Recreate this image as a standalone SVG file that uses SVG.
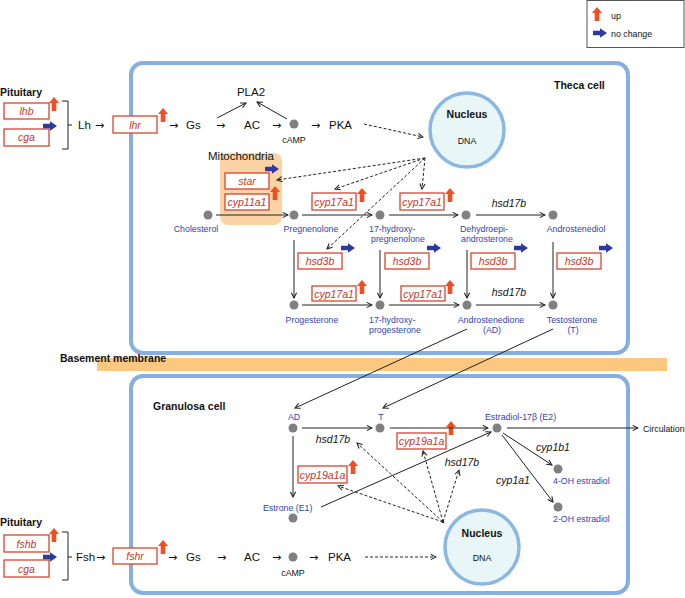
<svg xmlns="http://www.w3.org/2000/svg" xmlns:xlink="http://www.w3.org/1999/xlink" width="685" height="598" viewBox="0 0 685 598">
<style>
text{font-family:"Liberation Sans","DejaVu Sans",Arial,sans-serif}
.box{fill:#fff;stroke:#d8442e;stroke-width:1.3}
.g{font-style:italic;fill:#c8372a;font-size:10.5px;text-anchor:middle}
.it{font-style:italic;fill:#111;font-size:10.5px;text-anchor:middle}
.bl{fill:#3444ad;font-size:8.8px}
.m{text-anchor:middle}
.k{fill:#111;font-size:11.5px}
.ar{fill:#111;font-size:11px;font-family:"DejaVu Sans",sans-serif}
.s{fill:#111;font-size:8.8px}
.hd{fill:#111;font-size:10.5px;font-weight:bold}
.dot{fill:#808080}
.cell{fill:#fff;stroke:#86afe0;stroke-width:4}
.nuc{fill:#e8f6f8;stroke:#8ab8e2;stroke-width:3.5}
.ln{fill:none;stroke:#222;stroke-width:1}
.ds{fill:none;stroke:#222;stroke-width:1;stroke-dasharray:3,2}
</style>
<defs>
<marker id="ah" viewBox="0 0 8 8" refX="7" refY="4" markerWidth="7" markerHeight="7" markerUnits="userSpaceOnUse" orient="auto">
<path d="M1,1 L7,4 L1,7" fill="none" stroke="#222" stroke-width="1.2"/>
</marker>
<path id="up" d="M0,-7 L5,-1 L2.3,-1 L2.3,7 L-2.3,7 L-2.3,-1 L-5,-1 Z" fill="#f04e23"/>
<path id="nc" d="M7,0 L0,-4.8 L0,-2.3 L-7,-2.3 L-7,2.3 L0,2.3 L0,4.8 Z" fill="#2b3a9c"/>
</defs>

<!-- legend -->
<g id="legend">
<rect x="587" y="0.5" width="97" height="47" fill="#fff" stroke="#555" stroke-width="1"/>
<use href="#up" x="597" y="14"/>
<text x="611" y="19" class="s" font-size="9.5">up</text>
<use href="#nc" x="600" y="33"/>
<text x="611" y="37" class="s" font-size="9.5">no change</text>
</g>

<!-- cells and membrane -->
<g id="theca-cell">
<rect class="cell" x="131" y="63" width="497" height="290" rx="12"/>
<text x="554" y="89" class="hd">Theca cell</text>
</g>
<g id="basement-membrane">
<rect x="97" y="358" width="570" height="13" fill="#fcc87f"/>
<text x="60" y="362" class="hd" font-size="10">Basement membrane</text>
</g>
<g id="granulosa-cell">
<rect class="cell" x="131" y="376" width="497" height="217" rx="12"/>
<text x="153" y="410" class="hd">Granulosa cell</text>
</g>

<g id="mitochondria">
<rect x="220" y="153" width="62" height="72" rx="8" fill="#fbd3a5"/>
<text x="208" y="160" class="k" font-size="10.5">Mitochondria</text>
</g>

<g id="nucleus-theca">
<circle class="nuc" cx="467" cy="130" r="37"/>
<text x="467" y="118" class="hd m">Nucleus</text>
<text x="467" y="144" class="s m">DNA</text>
</g>
<g id="nucleus-granulosa">
<circle class="nuc" cx="482" cy="547" r="37"/>
<text x="482" y="537" class="hd m">Nucleus</text>
<text x="482" y="561" class="s m">DNA</text>
</g>

<!-- top pituitary -->
<g id="pituitary-lh">
<text x="0" y="96" class="hd">Pituitary</text>
<rect class="box" x="4" y="103" width="45" height="16"/>
<text x="26.5" y="115" class="g">lhb</text>
<rect class="box" x="4" y="129" width="45" height="17"/>
<text x="26.5" y="141" class="g">cga</text>
<use href="#up" x="54" y="104"/>
<use href="#nc" x="50" y="126"/>
<path class="ln" d="M62,101 H68 V149 H62 M68,125 H72"/>
<text x="78" y="129" class="k">Lh</text>
<text x="95" y="129" class="ar">→</text>
</g>
<g id="lhr">
<rect class="box" x="113" y="116" width="44" height="17"/>
<text x="135" y="128.5" class="g">lhr</text>
<use href="#up" x="163" y="115"/>
<text x="169" y="129" class="ar">→</text>
<text x="186" y="129" class="k">Gs</text>
<text x="216" y="129" class="ar">→</text>
<text x="244" y="129" class="k">AC</text>
<text x="272" y="129" class="ar">→</text>
<circle class="dot" cx="294" cy="124" r="4.5"/>
<text x="294" y="143" class="s m">cAMP</text>
<text x="311" y="129" class="ar">→</text>
<text x="329" y="129" class="k">PKA</text>
<text x="251" y="96" class="k m">PLA2</text>
</g>

<!-- theca steroidogenesis -->
<g id="theca-genes">
<use href="#nc" x="272" y="169"/>
<rect class="box" x="225" y="173" width="44" height="16"/>
<text x="247" y="185" class="g">star</text>
<rect class="box" x="225" y="194" width="44" height="16"/>
<text x="247" y="206" class="g">cyp11a1</text>
<use href="#up" x="275" y="193"/>

<rect class="box" x="312" y="193" width="44" height="17"/>
<text x="334" y="205.5" class="g">cyp17a1</text>
<use href="#up" x="362" y="195"/>
<rect class="box" x="400" y="193" width="44" height="17"/>
<text x="422" y="205.5" class="g">cyp17a1</text>
<use href="#up" x="450" y="195"/>
<text x="509" y="207" class="it">hsd17b</text>

<rect class="box" x="298" y="253" width="44" height="16"/>
<text x="320" y="265" class="g">hsd3b</text>
<use href="#nc" x="348" y="248"/>
<rect class="box" x="385" y="253" width="44" height="16"/>
<text x="407" y="265" class="g">hsd3b</text>
<use href="#nc" x="434" y="248"/>
<rect class="box" x="471" y="253" width="44" height="16"/>
<text x="493" y="265" class="g">hsd3b</text>
<use href="#nc" x="521" y="248"/>
<rect class="box" x="557" y="253" width="44" height="16"/>
<text x="579" y="265" class="g">hsd3b</text>
<use href="#nc" x="606" y="248"/>

<rect class="box" x="312" y="286" width="44" height="15"/>
<text x="334" y="297.5" class="g">cyp17a1</text>
<use href="#up" x="362" y="287"/>
<rect class="box" x="401" y="286" width="44" height="15"/>
<text x="423" y="297.5" class="g">cyp17a1</text>
<use href="#up" x="450" y="287"/>
<text x="509" y="296" class="it">hsd17b</text>
</g>

<g id="cholesterol"><circle class="dot" cx="208" cy="215" r="4.5"/><text x="196" y="232" class="bl m">Cholesterol</text></g>
<g id="pregnenolone"><circle class="dot" cx="294" cy="215" r="4.5"/><text x="311" y="232" class="bl m">Pregnenolone</text></g>
<g id="hydroxypregnenolone"><circle class="dot" cx="380" cy="215" r="4.5"/><text x="369" y="232" class="bl">17-hydroxy-</text><text x="371" y="242" class="bl">pregnenolone</text></g>
<g id="dhea"><circle class="dot" cx="466" cy="215" r="4.5"/><text x="460" y="232" class="bl">Dehydroepi-</text><text x="461" y="242" class="bl">androsterone</text></g>
<g id="androstenediol"><circle class="dot" cx="553" cy="215" r="4.5"/><text x="576" y="232" class="bl m">Androstenediol</text></g>
<g id="progesterone"><circle class="dot" cx="294" cy="305" r="4.5"/><text x="312" y="323" class="bl m">Progesterone</text></g>
<g id="hydroxyprogesterone"><circle class="dot" cx="380" cy="305" r="4.5"/><text x="369" y="323" class="bl">17-hydroxy-</text><text x="369" y="333" class="bl">progesterone</text></g>
<g id="androstenedione"><circle class="dot" cx="467" cy="305" r="4.5"/><text x="491" y="323" class="bl m">Androstenedione</text><text x="492" y="333" class="bl m">(AD)</text></g>
<g id="testosterone"><circle class="dot" cx="553" cy="305" r="4.5"/><text x="572" y="323" class="bl m">Testosterone</text><text x="573" y="333" class="bl m">(T)</text></g>

<!-- granulosa -->
<g id="ad-g"><circle class="dot" cx="293" cy="428" r="4.5"/><text x="294" y="420" class="bl m">AD</text></g>
<g id="t-g"><circle class="dot" cx="380" cy="428" r="4.5"/><text x="381" y="420" class="bl m">T</text></g>
<g id="e2"><circle class="dot" cx="497" cy="428" r="4.5"/><text x="485" y="420" class="bl">Estradiol-17β (E2)</text></g>
<g id="e1"><circle class="dot" cx="293" cy="518" r="4.5"/><text x="263" y="511" class="bl">Estrone (E1)</text></g>
<g id="oh4"><circle class="dot" cx="558" cy="469" r="4.5"/><text x="553" y="484" class="bl">4-OH estradiol</text></g>
<g id="oh2"><circle class="dot" cx="558" cy="507" r="4.5"/><text x="553" y="522" class="bl">2-OH estradiol</text></g>
<g id="circulation"><text x="643" y="432" class="s" font-size="9.5">Circulation</text></g>

<g id="granulosa-genes">
<text x="333" y="443" class="it">hsd17b</text>
<rect class="box" x="397" y="433" width="49" height="16"/>
<text x="421.5" y="445" class="g">cyp19a1a</text>
<use href="#up" x="451" y="428"/>
<text x="462" y="466" class="it">hsd17b</text>
<rect class="box" x="298" y="466" width="49" height="17"/>
<text x="322.5" y="478.5" class="g">cyp19a1a</text>
<use href="#up" x="353" y="467"/>
<text x="553" y="451" class="it">cyp1b1</text>
<text x="513" y="484" class="it">cyp1a1</text>
</g>

<!-- bottom pituitary -->
<g id="pituitary-fsh">
<text x="0" y="526" class="hd">Pituitary</text>
<rect class="box" x="4" y="535" width="45" height="17"/>
<text x="26.5" y="547.5" class="g">fshb</text>
<rect class="box" x="4" y="560" width="45" height="17"/>
<text x="26.5" y="572.5" class="g">cga</text>
<use href="#up" x="54" y="535"/>
<use href="#nc" x="50" y="557"/>
<path class="ln" d="M62,532 H68 V580 H62 M68,557 H72"/>
<text x="76" y="561" class="k">Fsh</text>
<text x="96" y="561" class="ar">→</text>
</g>
<g id="fshr">
<rect class="box" x="113" y="548" width="44" height="16"/>
<text x="135" y="560" class="g">fshr</text>
<use href="#up" x="163" y="547"/>
<text x="168" y="561" class="ar">→</text>
<text x="186" y="561" class="k">Gs</text>
<text x="217" y="561" class="ar">→</text>
<text x="244" y="561" class="k">AC</text>
<text x="272" y="561" class="ar">→</text>
<circle class="dot" cx="293" cy="557" r="4.5"/>
<text x="293" y="576" class="s m">cAMP</text>
<text x="309" y="561" class="ar">→</text>
<text x="328" y="561" class="k">PKA</text>
</g>

<g id="connectors">
<line class="ln" x1="217" y1="118" x2="246" y2="103" marker-end="url(#ah)"/>
<line class="ln" x1="287" y1="119" x2="257" y2="102" marker-end="url(#ah)"/>
<line class="ds" x1="364" y1="124" x2="423" y2="137" marker-end="url(#ah)"/>
<line class="ds" x1="425" y1="158" x2="277" y2="180" marker-end="url(#ah)"/>
<line class="ds" x1="425" y1="158" x2="335" y2="189" marker-end="url(#ah)"/>
<line class="ds" x1="425" y1="158" x2="327" y2="249" marker-end="url(#ah)"/>
<line class="ds" x1="425" y1="158" x2="422" y2="189" marker-end="url(#ah)"/>

<line class="ln" x1="216" y1="215" x2="288" y2="215" marker-end="url(#ah)"/>
<line class="ln" x1="302" y1="215" x2="372" y2="215" marker-end="url(#ah)"/>
<line class="ln" x1="389" y1="215" x2="458" y2="215" marker-end="url(#ah)"/>
<line class="ln" x1="476" y1="215" x2="545" y2="215" marker-end="url(#ah)"/>

<line class="ln" x1="294" y1="240" x2="294" y2="298" marker-end="url(#ah)"/>
<line class="ln" x1="380" y1="250" x2="380" y2="298" marker-end="url(#ah)"/>
<line class="ln" x1="467" y1="250" x2="467" y2="298" marker-end="url(#ah)"/>
<line class="ln" x1="553" y1="242" x2="553" y2="298" marker-end="url(#ah)"/>

<line class="ln" x1="302" y1="305" x2="372" y2="305" marker-end="url(#ah)"/>
<line class="ln" x1="389" y1="305" x2="459" y2="305" marker-end="url(#ah)"/>
<line class="ln" x1="476" y1="305" x2="545" y2="305" marker-end="url(#ah)"/>

<line class="ln" x1="467" y1="329" x2="295" y2="408" marker-end="url(#ah)"/>
<line class="ln" x1="553" y1="329" x2="383" y2="408" marker-end="url(#ah)"/>

<line class="ln" x1="302" y1="428" x2="372" y2="428" marker-end="url(#ah)"/>
<line class="ln" x1="390" y1="428" x2="488" y2="428" marker-end="url(#ah)"/>
<line class="ln" x1="507" y1="428" x2="638" y2="428" marker-end="url(#ah)"/>
<line class="ln" x1="503" y1="433" x2="552" y2="465" marker-end="url(#ah)"/>
<line class="ln" x1="502" y1="435" x2="553" y2="502" marker-end="url(#ah)"/>
<line class="ln" x1="293" y1="436" x2="293" y2="497" marker-end="url(#ah)"/>
<line class="ln" x1="321" y1="507" x2="491" y2="432" marker-end="url(#ah)"/>

<line class="ds" x1="443" y1="522" x2="357" y2="443" marker-end="url(#ah)"/>
<line class="ds" x1="443" y1="522" x2="423" y2="451" marker-end="url(#ah)"/>
<line class="ds" x1="443" y1="522" x2="459" y2="470" marker-end="url(#ah)"/>
<line class="ds" x1="443" y1="522" x2="338" y2="486" marker-end="url(#ah)"/>
<circle cx="443" cy="522" r="1.2" fill="#222"/>
<line class="ds" x1="365" y1="557" x2="436" y2="557" marker-end="url(#ah)"/>
</g>
</svg>
